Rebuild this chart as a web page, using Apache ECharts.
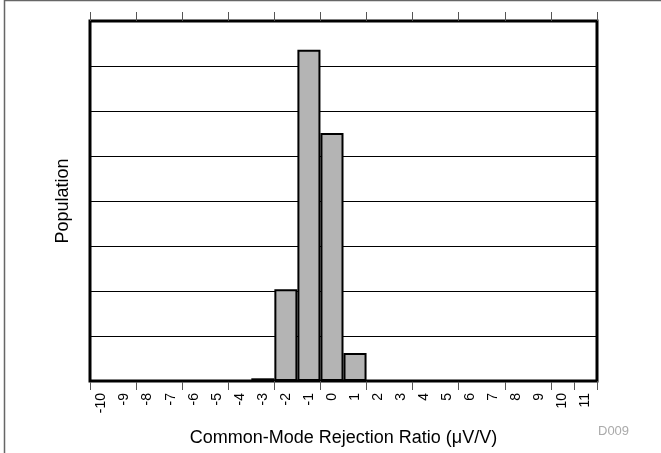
<!DOCTYPE html>
<html>
<head>
<meta charset="utf-8">
<script src="https://cdn.jsdelivr.net/npm/echarts@6/dist/echarts.min.js"></script>
<style>
html,body{margin:0;padding:0;background:#fff;}
#c{width:661px;height:453px;}
</style>
</head>
<body>
<div id="c"></div>
<script>
var categories = ["-10","-9","-8","-7","-6","-5","-4","-3","-2","-1","0","1","2","3","4","5","6","7","8","9","10","11"];
var population = [0,0,0,0,0,0,0,0.06,2.04,7.36,5.51,0.62,0,0,0,0,0,0,0,0,0,0];
var xTitle = "Common-Mode Rejection Ratio (\u03BCV/V)";
var yTitle = "Population";
var note = "D009";

var chart = echarts.init(document.getElementById('c'), null, {renderer:'canvas'});
var FONT = 'Liberation Sans, Arial, sans-serif';
chart.setOption({
  animation:false,
  backgroundColor:'#fff',
  textStyle:{fontFamily:FONT},
  grid:{left:90,right:64,top:21,bottom:72,show:true,borderColor:'#000',borderWidth:3,backgroundColor:'transparent'},
  graphic:[
    {type:'rect',z:-1,shape:{x:4.5,y:0.5,width:700,height:500},style:{fill:'none',stroke:'#666',lineWidth:1.5}},
    {type:'text',left:598,top:425,style:{text:note,fill:'#aaa',font:'13px '+FONT}}
  ],
  xAxis:[{
    type:'category',data:categories,position:'bottom',boundaryGap:true,
    axisLine:{show:false},
    axisTick:{show:true,interval:1,length:9,lineStyle:{color:'#555',width:1}},
    axisLabel:{interval:0,rotate:90,margin:12,fontSize:14,color:'#000',fontFamily:FONT},
    name:xTitle,nameLocation:'middle',nameGap:48,
    nameTextStyle:{fontSize:18,color:'#000',fontFamily:FONT},
    splitLine:{show:false}
  },{
    type:'category',data:categories,position:'top',boundaryGap:true,
    axisLine:{show:false},
    axisTick:{show:true,interval:1,length:9,lineStyle:{color:'#555',width:1}},
    axisLabel:{show:false}
  }],
  yAxis:{
    type:'value',min:0,max:8,interval:1,
    axisLine:{show:false},axisTick:{show:false},axisLabel:{show:false},
    splitLine:{show:true,lineStyle:{color:'#000',width:1}},
    name:yTitle,nameLocation:'middle',nameGap:18,
    nameTextStyle:{fontSize:18,color:'#000',fontFamily:FONT}
  },
  series:[{
    type:'bar',data:population,xAxisIndex:0,barWidth:'100%',barCategoryGap:'0%',
    itemStyle:{color:'#b4b4b4',borderColor:'#000',borderWidth:2},
    z:3
  }]
});
</script>
</body>
</html>
